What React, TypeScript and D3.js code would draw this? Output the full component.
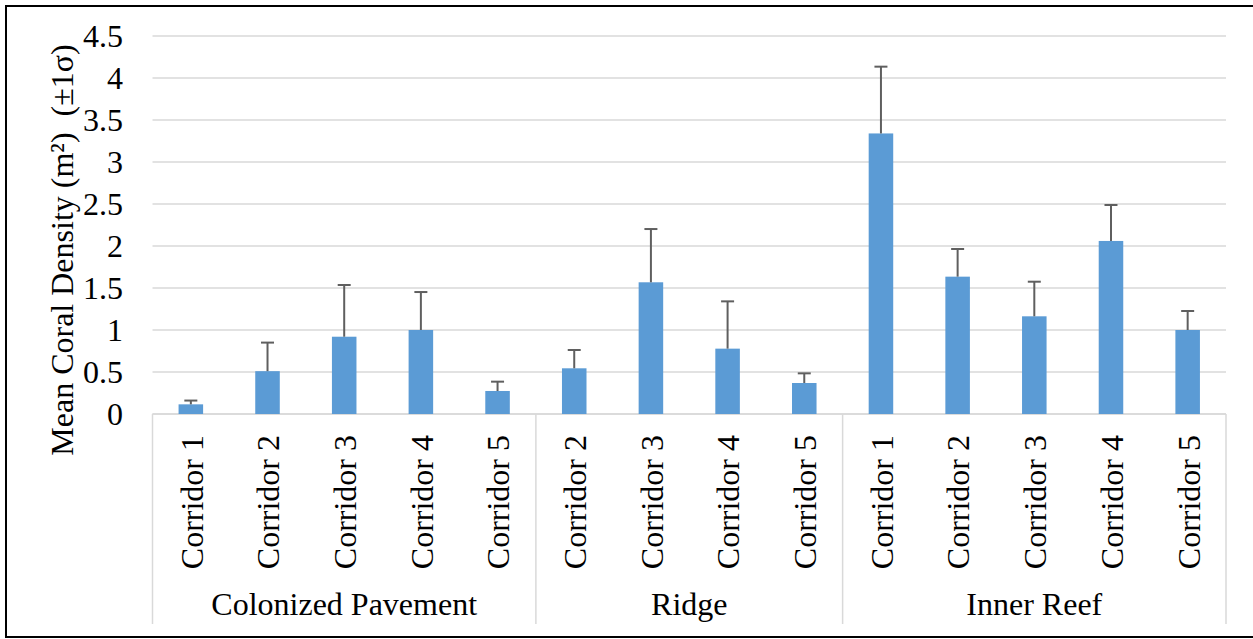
import React from "react";
import * as d3 from "d3";

const groups = ["Colonized Pavement", "Ridge", "Inner Reef"];
const corridors: string[][] = [
  ["Corridor 1", "Corridor 2", "Corridor 3", "Corridor 4", "Corridor 5"],
  ["Corridor 2", "Corridor 3", "Corridor 4", "Corridor 5"],
  ["Corridor 1", "Corridor 2", "Corridor 3", "Corridor 4", "Corridor 5"],
];
const means = [0.115, 0.51, 0.92, 1.0, 0.274, 0.544, 1.568, 0.778, 0.369, 3.34, 1.635, 1.163, 2.06, 1.0];
const upper = [0.16, 0.85, 1.536, 1.452, 0.385, 0.762, 2.202, 1.341, 0.484, 4.135, 1.964, 1.575, 2.488, 1.226];
const yTicks = [0, 0.5, 1, 1.5, 2, 2.5, 3, 3.5, 4, 4.5];
const yLabel = "Mean Coral Density (m²)\u00A0\u00A0(±1σ)";

const W = 1253;
const H = 639;
const left = 152.5;
const right = 1226;
const top = 36;
const bottom = 414;
const axisBottom = 624;
const font = "Liberation Serif, Times New Roman, DejaVu Serif, serif";

export default function App() {
  const items = corridors.flatMap((cs, gi) => cs.map((c, ci) => ({ key: `${gi}-${ci}`, label: c, group: gi })));
  const x = d3.scaleBand<string>().domain(items.map((d) => d.key)).range([left, right]).padding(0);
  const y = d3.scaleLinear().domain([0, 4.5]).range([bottom, top]);
  const bw = x.bandwidth();
  const barW = bw * 0.32;

  let idx = 0;
  const groupSpans = corridors.map((cs, gi) => {
    const start = idx;
    idx += cs.length;
    const x0 = x(items[start].key)!;
    const x1 = x(items[idx - 1].key)! + bw;
    return { name: groups[gi], x0, x1 };
  });

  const ts = { fontFamily: font, fontSize: "32px" } as React.CSSProperties;

  return (
    <svg
      width={W}
      height={H}
      style={{ position: "absolute", left: 0, top: 0, background: "#fff", fontFamily: font }}
    >
      <rect x={0} y={0} width={W} height={H} fill="#fff" />
      <path d={`M${W + 2},6 H6 V637 H${W + 2}`} fill="none" stroke="#000" strokeWidth={2} />

      {yTicks.map((t) => (
        <line key={t} x1={left} x2={right} y1={y(t)} y2={y(t)} stroke="#d9d9d9" strokeWidth={1.5} />
      ))}

      {yTicks.map((t) => (
        <text key={"l" + t} x={123} y={y(t)} dy="0.34em" textAnchor="end" style={ts} fill="#000">
          {String(t)}
        </text>
      ))}

      <text transform={`translate(73, 250) rotate(-90)`} textAnchor="middle" style={ts} fill="#000">
        {yLabel}
      </text>

      <line x1={left} x2={right} y1={bottom} y2={bottom} stroke="#d9d9d9" strokeWidth={1.5} />
      <line x1={left} x2={left} y1={bottom} y2={axisBottom} stroke="#d9d9d9" strokeWidth={1.5} />
      {groupSpans.map((g) => (
        <line key={"sep" + g.name} x1={g.x1} x2={g.x1} y1={bottom} y2={axisBottom} stroke="#d9d9d9" strokeWidth={1.5} />
      ))}

      {items.map((d, i) => {
        const cx = x(d.key)! + bw / 2;
        return (
          <g key={d.key}>
            <rect x={cx - barW / 2} y={y(means[i])} width={barW} height={bottom - y(means[i])} fill="#5b9bd5" />
            <line x1={cx} x2={cx} y1={y(means[i])} y2={y(upper[i])} stroke="#5f5f5f" strokeWidth={2} />
            <line x1={cx - 6.5} x2={cx + 6.5} y1={y(upper[i])} y2={y(upper[i])} stroke="#5f5f5f" strokeWidth={2} />
          </g>
        );
      })}

      {items.map((d) => {
        const cx = x(d.key)! + bw / 2;
        return (
          <text
            key={"c" + d.key}
            transform={`translate(${cx}, 435) rotate(-90)`}
            dy="0.37em"
            textAnchor="end"
            style={ts}
            fill="#000"
          >
            {d.label}
          </text>
        );
      })}

      {groupSpans.map((g) => (
        <text key={"g" + g.name} x={(g.x0 + g.x1) / 2} y={615} textAnchor="middle" style={ts} fill="#000">
          {g.name}
        </text>
      ))}
    </svg>
  );
}
